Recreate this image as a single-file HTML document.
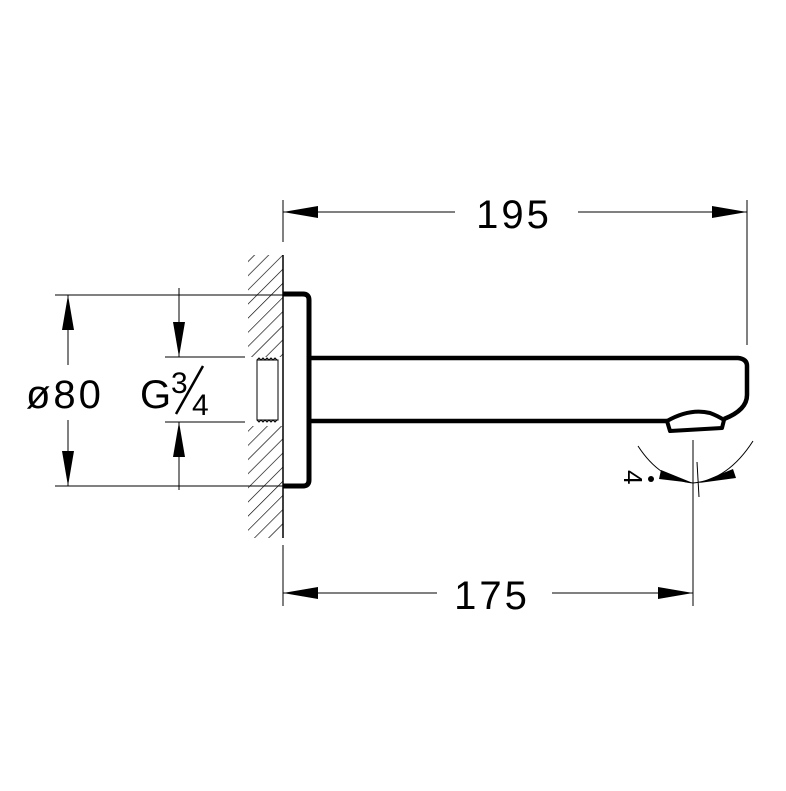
<!DOCTYPE html>
<html><head><style>body{margin:0;background:#fff}</style></head><body>
<svg width="786" height="786" viewBox="0 0 786 786" xmlns="http://www.w3.org/2000/svg">
<defs>
<pattern id="h" width="10" height="10" patternUnits="userSpaceOnUse" patternTransform="rotate(45)">
<line x1="0" y1="0" x2="0" y2="10" stroke="#000" stroke-width="1.3"/>
</pattern>
</defs>
<g fill="none" stroke="#000">
<rect x="248" y="255" width="35" height="102" fill="url(#h)" stroke="none"/>
<rect x="248" y="426" width="35" height="112" fill="url(#h)" stroke="none"/>
<line x1="283" y1="255" x2="283" y2="538" stroke-width="1.5"/>
<line x1="283" y1="200" x2="283" y2="242" stroke-width="1"/>
<line x1="283" y1="545" x2="283" y2="606" stroke-width="1"/>
<rect x="257" y="360" width="21" height="60" stroke-width="1"/>
<path d="M257 360 l2 -2 l2 2 l2 -2 l2 2 l2 -2 l2 2 l2 -2 l2 2 l2 -2 l2 2 M257 420 l2 2 l2 -2 l2 2 l2 -2 l2 2 l2 -2 l2 2 l2 -2 l2 2 l2 -2" stroke-width="1"/>
<path d="M283 294 H303 Q309 294 309 300 V480 Q309 486 303 486 H283" stroke-width="5"/>
<path d="M309 358 H738 Q747 359 747 366 V395 Q747 410 724 419" stroke-width="4.5"/>
<path d="M309 421 H667" stroke-width="4.5"/>
<path d="M667 421 Q690 408 710 413 Q718 416 724 420 L722 428 L670 431 Z" stroke-width="4" stroke-linejoin="round"/>
<line x1="747" y1="200" x2="747" y2="345" stroke-width="1"/>
<line x1="283" y1="212" x2="455" y2="212" stroke-width="1"/>
<line x1="578" y1="212" x2="747" y2="212" stroke-width="1"/>
<line x1="693" y1="440" x2="693" y2="606" stroke-width="1"/>
<line x1="283" y1="593" x2="437" y2="593" stroke-width="1"/>
<line x1="552" y1="593" x2="693" y2="593" stroke-width="1"/>
<line x1="697" y1="462" x2="699" y2="497" stroke-width="1"/>
<path d="M638 446 Q660 480 693 483 Q728 480 753 441" stroke-width="1"/>
<line x1="55" y1="295" x2="283" y2="295" stroke-width="1"/>
<line x1="55" y1="486" x2="283" y2="486" stroke-width="1"/>
<line x1="68" y1="295" x2="68" y2="365" stroke-width="1"/>
<line x1="68" y1="420" x2="68" y2="486" stroke-width="1"/>
<line x1="165" y1="357" x2="245" y2="357" stroke-width="1"/>
<line x1="165" y1="422" x2="245" y2="422" stroke-width="1"/>
<line x1="179" y1="288" x2="179" y2="357" stroke-width="1"/>
<line x1="179" y1="422" x2="179" y2="490" stroke-width="1"/>
</g>
<g fill="#000">
<polygon points="283,212 318,206 318,218"/>
<polygon points="747,212 712,206 712,218"/>
<polygon points="283,593 318,587 318,599"/>
<polygon points="693,593 658,587 658,599"/>
<polygon points="68,295 62,330 74,330"/>
<polygon points="68,486 62,451 74,451"/>
<polygon points="179,357 173,322 185,322"/>
<polygon points="179,422 173,457 185,457"/>
<polygon points="693,483 661,470 659,479"/>
<polygon points="699,483 733,469 736,478"/>
<circle cx="651" cy="479" r="3"/>
</g>
<g font-family="Liberation Sans, sans-serif" font-size="40" fill="#000" letter-spacing="3">
<text x="514" y="228" text-anchor="middle">195</text>
<text x="492" y="609" text-anchor="middle">175</text>
<text x="26" y="408">ø80</text>
<text x="140" y="408" letter-spacing="0">G</text>
<text x="171" y="393" font-size="30" letter-spacing="0">3</text>
<text x="192" y="415" font-size="30" letter-spacing="0">4</text>
<text x="0" y="0" font-size="26" letter-spacing="0" transform="translate(624 470) rotate(90)">4</text>
</g>
<line x1="176" y1="414" x2="203" y2="366" stroke="#000" stroke-width="2.5"/>
</svg>
</body></html>
